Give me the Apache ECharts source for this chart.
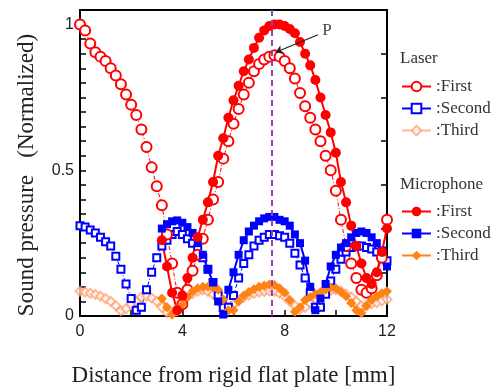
<!DOCTYPE html>
<html>
<head>
<meta charset="utf-8">
<script src="https://cdn.jsdelivr.net/npm/echarts@6/dist/echarts.min.js"></script>
<style>
  html, body { margin: 0; padding: 0; background: #fff; }
  #chart { width: 497px; height: 392px; }
</style>
</head>
<body>
<div id="chart"></div>
<script>
// distance [mm]
const distLaser = [0, 0.2, 0.4, 0.6, 0.8, 1.0, 1.2, 1.4, 1.6, 1.8, 2.0, 2.2, 2.4, 2.6, 2.8, 3.0, 3.2, 3.4, 3.6, 3.8,
  4.0, 4.2, 4.4, 4.6, 4.8, 5.0, 5.2, 5.4, 5.6, 5.8, 6.0, 6.2, 6.4, 6.6, 6.8, 7.0, 7.2, 7.4, 7.6, 7.8,
  8.0, 8.2, 8.4, 8.6, 8.8, 9.0, 9.2, 9.4, 9.6, 9.8, 10.0, 10.2, 10.4, 10.6, 10.8, 11.0, 11.2, 11.4, 11.6, 11.8, 12.0];
const distMic = [3.2, 3.4, 3.6, 3.8,
  4.0, 4.2, 4.4, 4.6, 4.8, 5.0, 5.2, 5.4, 5.6, 5.8, 6.0, 6.2, 6.4, 6.6, 6.8, 7.0, 7.2, 7.4, 7.6, 7.8,
  8.0, 8.2, 8.4, 8.6, 8.8, 9.0, 9.2, 9.4, 9.6, 9.8, 10.0, 10.2, 10.4, 10.6, 10.8, 11.0, 11.2, 11.4, 11.6, 11.8, 12.0];

// laser (normalized)
const laserFirst = [1.0, 0.98, 0.935, 0.905, 0.89, 0.875, 0.85, 0.825, 0.795, 0.76, 0.725, 0.69, 0.64, 0.58, 0.51,
  0.445, 0.38, 0.28, 0.18, 0.08, 0.04, 0.09, 0.155, 0.21, 0.265, 0.33, 0.4, 0.46, 0.54, 0.6,
  0.66, 0.71, 0.76, 0.8, 0.84, 0.865, 0.88, 0.89, 0.895, 0.89, 0.875, 0.85, 0.815, 0.765, 0.72,
  0.68, 0.64, 0.6, 0.55, 0.5, 0.43, 0.33, 0.24, 0.18, 0.13, 0.09, 0.08, 0.095, 0.14, 0.2, 0.33];
const laserSecond = [0.31, 0.305, 0.295, 0.285, 0.27, 0.255, 0.24, 0.205, 0.16, 0.11, 0.06, 0.02, 0.03, 0.09, 0.15,
  0.2, 0.24, 0.26, 0.28, 0.29, 0.28, 0.265, 0.25, 0.23, 0.2, 0.16, 0.115, 0.07, 0.03, 0.03,
  0.07, 0.13, 0.18, 0.21, 0.24, 0.26, 0.27, 0.28, 0.28, 0.275, 0.27, 0.25, 0.215, 0.175, 0.13,
  0.08, 0.03, 0.03, 0.075, 0.12, 0.16, 0.195, 0.22, 0.235, 0.24, 0.24, 0.235, 0.23, 0.22, 0.2, 0.19];
const laserThird = [0.085, 0.082, 0.078, 0.074, 0.068, 0.06, 0.05, 0.035, 0.018, 0.025, 0.04, 0.05, 0.065, 0.068, 0.062,
  0.05, 0.03, 0.012, 0.008, 0.025, 0.045, 0.065, 0.078, 0.085, 0.09, 0.085, 0.075, 0.06, 0.035, 0.02,
  0.04, 0.055, 0.065, 0.072, 0.078, 0.082, 0.085, 0.086, 0.085, 0.078, 0.068, 0.05, 0.035, 0.022, 0.03,
  0.045, 0.058, 0.07, 0.08, 0.087, 0.09, 0.085, 0.075, 0.065, 0.05, 0.035, 0.035, 0.042, 0.046, 0.052, 0.057];

// microphone (normalized)
const micFirst = [0.26, 0.17, 0.08, 0.02, 0.07, 0.13, 0.2, 0.27, 0.33, 0.39, 0.46, 0.55, 0.61, 0.68,
  0.74, 0.79, 0.84, 0.88, 0.92, 0.955, 0.98, 0.995, 1.0, 1.0, 0.995, 0.985, 0.97, 0.94, 0.9,
  0.86, 0.81, 0.75, 0.69, 0.63, 0.56, 0.46, 0.39, 0.31, 0.24, 0.18, 0.13, 0.11, 0.15, 0.22, 0.3];
const micSecond = [0.3, 0.315, 0.325, 0.328, 0.32, 0.305, 0.285, 0.25, 0.21, 0.16, 0.115, 0.05, 0.005, 0.09,
  0.15, 0.21, 0.26, 0.29, 0.31, 0.325, 0.335, 0.34, 0.34, 0.33, 0.325, 0.31, 0.28, 0.25, 0.19,
  0.1, 0.02, 0.06, 0.11, 0.17, 0.21, 0.235, 0.25, 0.27, 0.285, 0.29, 0.285, 0.27, 0.25, 0.225, 0.17];
const micThird = [0.06, 0.03, 0.005, 0.015, 0.04, 0.065, 0.085, 0.095, 0.1, 0.1, 0.098, 0.09, 0.057, 0.02,
  0.02, 0.05, 0.07, 0.082, 0.092, 0.1, 0.105, 0.108, 0.106, 0.095, 0.08, 0.055, 0.015, 0.03, 0.055,
  0.065, 0.075, 0.082, 0.09, 0.098, 0.095, 0.082, 0.068, 0.045, 0.02, 0.01, 0.035, 0.055, 0.068, 0.078, 0.085];

const xTickLabels = ['0', '4', '8', '12'];
const yTickLabels = ['0', '0.5', '1'];
const peakX = 7.5;
const arrowFrom = [9.3, 0.965];
const arrowTo = [7.65, 0.905];
const pLabelAt = [9.65, 0.98];

const pair = (xs, ys) => xs.map((x, i) => [x, ys[i]]);
const serif = 'Liberation Serif';
const sans = 'Liberation Sans';

const RED = '#ff0000';
const BLUE = '#0000ff';
const ORANGE = '#ff8214';
const PALE = '#ff9a6a';

const legendName = {
  'L1': ':First', 'L2': ':Second', 'L3': ':Third',
  'M1': ':First', 'M2': ':Second', 'M3': ':Third'
};

const chart = echarts.init(document.getElementById('chart'), null, { renderer: 'canvas' });

const legendBase = {
  orient: 'vertical',
  left: 396,
  itemWidth: 29,
  itemHeight: 12,
  itemGap: 5,
  lineStyle: { type: 'solid', width: 2 },
  textStyle: { fontFamily: serif, fontSize: 17, color: '#333' },
  formatter: (n) => legendName[n],
  selectedMode: false
};
const groupTitle = { fontFamily: serif, fontSize: 17, fontWeight: 'normal', color: '#333' };

chart.setOption({
  animation: false,
  title: [
    { text: 'Laser', left: 395, top: 45, textStyle: groupTitle },
    { text: 'Microphone', left: 395, top: 171, textStyle: groupTitle }
  ],
  legend: [
    Object.assign({ top: 73, data: ['L1', 'L2', 'L3'] }, legendBase),
    Object.assign({ top: 198, data: ['M1', 'M2', 'M3'] }, legendBase)
  ],
  grid: { left: 80, right: 110, top: 10, bottom: 75, show: true, borderColor: '#000', borderWidth: 2 },
  xAxis: {
    type: 'value',
    min: 0,
    max: 12,
    interval: 2,
    name: 'Distance from rigid flat plate [mm]',
    nameLocation: 'middle',
    nameGap: 48,
    nameTextStyle: { fontFamily: serif, fontSize: 23, color: '#222' },
    axisLine: { lineStyle: { color: '#000', width: 2 } },
    axisTick: { inside: true, length: 6, lineStyle: { color: '#000', width: 1.5 } },
    axisLabel: {
      fontFamily: sans, fontSize: 16, color: '#222', margin: 8,
      formatter: (v) => xTickLabels.includes(String(v)) ? String(v) : ''
    },
    splitLine: { show: false }
  },
  yAxis: [
    {
      type: 'value',
      min: 0,
      max: 1.05,
      interval: 0.05,
      name: 'Sound pressure   (Normalized)',
      nameLocation: 'middle',
      nameGap: 42,
      nameTextStyle: { fontFamily: serif, fontSize: 23, color: '#222', padding: [0, 24, 0, 0] },
      axisLine: { lineStyle: { color: '#000', width: 2 } },
      axisTick: { inside: true, length: 6, lineStyle: { color: '#000', width: 1.5 } },
      axisLabel: {
        fontFamily: sans, fontSize: 16, color: '#222', margin: 6,
        formatter: (v) => {
          const s = String(Math.round(v * 100) / 100);
          return yTickLabels.includes(s) ? s : '';
        }
      },
      splitLine: { show: false }
    },
    {
      type: 'value',
      position: 'right',
      min: 0,
      max: 7,
      interval: 1,
      axisLine: { show: true, lineStyle: { color: '#000', width: 2 } },
      axisTick: { inside: true, length: 6, lineStyle: { color: '#000', width: 1.5 } },
      axisLabel: { show: false },
      splitLine: { show: false }
    }
  ],
  series: [
    {
      name: 'L3', type: 'line', data: pair(distLaser, laserThird),
      symbol: 'emptyDiamond', symbolSize: 9, showAllSymbol: true,
      lineStyle: { color: PALE, width: 1, type: [4, 2, 1, 2], opacity: 0.7 },
      itemStyle: { color: PALE, borderWidth: 1, opacity: 0.7 }
    },
    {
      name: 'L2', type: 'line', data: pair(distLaser, laserSecond),
      symbol: 'emptyRect', symbolSize: 7, showAllSymbol: true,
      lineStyle: { color: BLUE, width: 1, type: [4, 2, 1, 2] },
      itemStyle: { color: BLUE, borderWidth: 1 }
    },
    {
      name: 'L1', type: 'line', data: pair(distLaser, laserFirst),
      symbol: 'emptyCircle', symbolSize: 10, showAllSymbol: true,
      lineStyle: { color: RED, width: 1, type: [4, 2, 1, 2] },
      itemStyle: { color: RED, borderWidth: 1 },
      markLine: {
        silent: true,
        symbol: ['none', 'none'],
        label: { show: false },
        lineStyle: { color: '#9a3fb0', type: [6, 4], width: 2 },
        data: [{ xAxis: peakX }]
      }
    },
    {
      name: 'M3', type: 'line', data: pair(distMic, micThird),
      symbol: 'diamond', symbolSize: 10, showAllSymbol: true,
      lineStyle: { color: ORANGE, width: 2 },
      itemStyle: { color: ORANGE }
    },
    {
      name: 'M2', type: 'line', data: pair(distMic, micSecond),
      symbol: 'rect', symbolSize: 8, showAllSymbol: true,
      lineStyle: { color: BLUE, width: 2 },
      itemStyle: { color: BLUE }
    },
    {
      name: 'M1', type: 'line', data: pair(distMic, micFirst),
      symbol: 'circle', symbolSize: 10, showAllSymbol: true,
      lineStyle: { color: RED, width: 2 },
      itemStyle: { color: RED },
      markLine: {
        silent: true,
        symbol: ['none', 'arrow'],
        symbolSize: 7,
        label: { show: false },
        lineStyle: { color: '#222', type: 'solid', width: 1.2 },
        data: [[{ coord: arrowFrom }, { coord: arrowTo }]]
      },
      markPoint: {
        symbol: 'circle',
        symbolSize: 0,
        label: { show: true, formatter: 'P', fontFamily: serif, fontSize: 17, color: '#444', position: 'inside' },
        data: [{ coord: pLabelAt }]
      }
    }
  ]
});
</script>
</body>
</html>
